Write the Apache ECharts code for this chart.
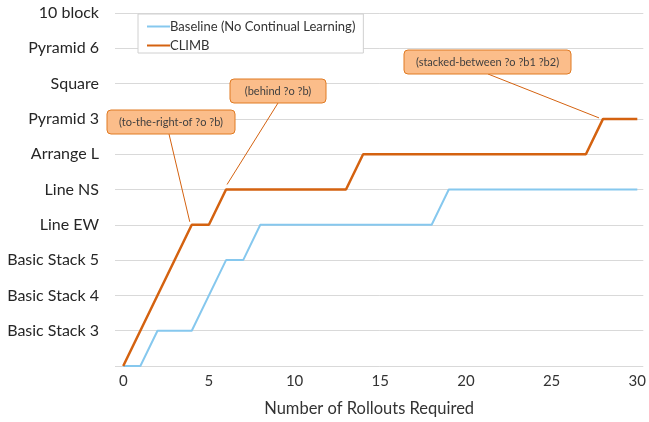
<!DOCTYPE html>
<html><head><meta charset="utf-8">
<script src="https://cdn.jsdelivr.net/npm/echarts@6/dist/echarts.min.js"></script>
<style>html,body{margin:0;padding:0;background:#fff}#c{width:649px;height:422px}</style>
</head><body><div id="c"></div>
<script>
const yLabels = ['', 'Basic Stack 3', 'Basic Stack 4', 'Basic Stack 5', 'Line EW', 'Line NS', 'Arrange L', 'Pyramid 3', 'Square', 'Pyramid 6', '10 block'];
const xTicks = [0, 5, 10, 15, 20, 25, 30];
const baselineX = [0, 1, 2, 4, 6, 7, 8, 18, 19, 30];
const baselineY = [0, 0, 1, 1, 3, 3, 4, 4, 5, 5];
const climbX = [0, 4, 5, 6, 13, 14, 27, 28, 30];
const climbY = [0, 4, 4, 5, 5, 6, 6, 7, 7];
const notes = ['(to-the-right-of ?o ?b)', '(behind ?o ?b)', '(stacked-between ?o ?b1 ?b2)'];
const noteAnchors = [[4, 4], [6, 5], [28, 7]];

const FONT = 'Lato';
const chart = echarts.init(document.getElementById('c'));
const zip = (xs, ys) => xs.map((x, i) => [x, ys[i]]);
chart.setOption({
  animation: false,
  textStyle: {fontFamily: FONT},
  grid: {left: 115, right: 1, top: 13, bottom: 55, containLabel: false},
  legend: {
    left: 138, top: 14, orient: 'vertical',
    padding: [6, 8, 1, 9], itemGap: 6,
    borderColor: '#d0d0d0', borderWidth: 1, backgroundColor: '#fff',
    itemWidth: 23, itemHeight: 2, icon: 'rect',
    textStyle: {fontFamily: FONT, fontSize: 13, color: '#333', padding: [0, 0, 0, -5]},
    data: ['Baseline (No Continual Learning)', 'CLIMB']
  },
  xAxis: {
    type: 'value', min: -0.48, max: 30.35,
    axisLine: {show: false}, axisTick: {show: false}, splitLine: {show: false},
    axisLabel: {customValues: xTicks, fontSize: 15, color: '#333', margin: 8, fontFamily: FONT},
    name: 'Number of Rollouts Required', nameLocation: 'middle', nameGap: 34,
    nameTextStyle: {fontSize: 16.5, color: '#333', fontFamily: FONT, padding: [0, 20, 0, 0]}
  },
  yAxis: {
    type: 'value', min: 0, max: 10, interval: 1,
    axisLine: {show: false}, axisTick: {show: false},
    splitLine: {lineStyle: {color: '#d9d9d9', width: 1}},
    axisLabel: {formatter: v => yLabels[v] || '', fontSize: 16, color: '#262626', margin: 16, fontFamily: FONT}
  },
  series: [
    {name: 'Baseline (No Continual Learning)', type: 'line', data: zip(baselineX, baselineY),
     showSymbol: false, lineStyle: {color: '#86c8ee', width: 2}, itemStyle: {color: '#86c8ee'}},
    {name: 'CLIMB', type: 'line', data: zip(climbX, climbY),
     showSymbol: false, lineStyle: {color: '#d46210', width: 2.5}, itemStyle: {color: '#d46210'}}
  ]
});

// callout boxes (layout positions in pixels), leader lines end at data anchors
const boxes = [
  {x: 107, y: 110, w: 128, h: 24, from: [169, 134], off: [-2, -3]},
  {x: 230, y: 79, w: 96, h: 24, from: [278, 103], off: [1, -5]},
  {x: 404, y: 50, w: 167, h: 24, from: [488, 74], off: [-4, -1]}
];
const g = [];
boxes.forEach((b, i) => {
  const p = chart.convertToPixel({seriesIndex: 1}, noteAnchors[i]);
  g.push({type: 'line', z: 10, shape: {x1: b.from[0], y1: b.from[1], x2: p[0] + b.off[0], y2: p[1] + b.off[1]},
          style: {stroke: '#d46210', lineWidth: 1}});
  g.push({type: 'rect', z: 11, shape: {x: b.x, y: b.y, width: b.w, height: b.h, r: 4},
          style: {fill: '#fbbd8a', stroke: '#e07a22', lineWidth: 1}});
  g.push({type: 'text', z: 12, style: {x: b.x + b.w / 2, y: b.y + b.h / 2, text: notes[i], align: 'center', verticalAlign: 'middle',
          fill: '#404040', font: '11px ' + FONT}});
});
chart.setOption({graphic: g});
</script></body></html>
